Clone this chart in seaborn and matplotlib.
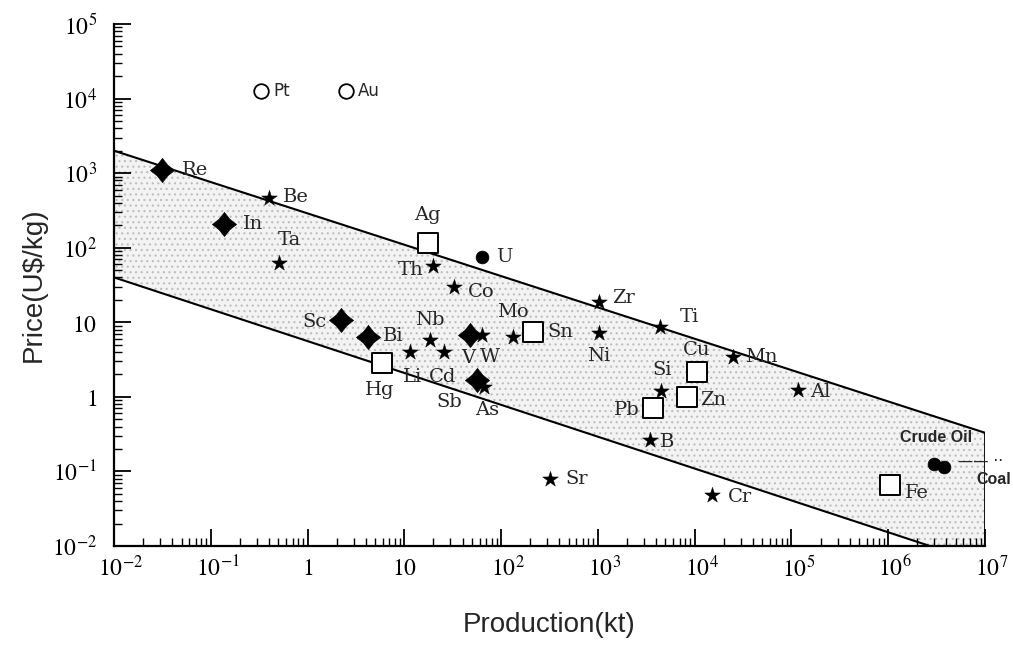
import numpy as np
import pandas as pd
import matplotlib
matplotlib.use("Agg")
import matplotlib.pyplot as plt
import matplotlib.ticker as mticker
import matplotlib.transforms as mtransforms
import seaborn as sns

# ---------------- data ----------------
names = ["Pt", "Au", "Re", "Be", "In", "Ta", "Ag", "U", "Th", "Co", "Sc", "Bi",
         "Hg", "Li", "Nb", "Cd", "V", "W", "Mo", "Sn", "Sb", "As", "Zr", "Ni",
         "Ti", "Mn", "Cu", "Si", "Zn", "Pb", "B", "Sr", "Cr", "Al", "Fe",
         "Crude Oil", "Coal"]
production_kt = [0.33, 2.5, 0.031, 0.40, 0.137, 0.51, 17.5, 63, 20, 33, 2.2, 4.2,
                 5.9, 11.4, 18.4, 26, 48, 63, 132, 214, 56, 67, 1020, 1020,
                 4370, 25000, 10500, 4450, 8300, 3700, 3460, 318, 15000, 118000, 1.05e6,
                 3.0e6, 3.8e6]
price_usd_kg = [12600, 12600, 1100, 470, 210, 63, 115, 75, 57, 30, 10.8, 6.4,
                2.86, 4.0, 5.8, 4.0, 6.8, 6.8, 6.4, 7.4, 1.69, 1.36, 18.8, 7.2,
                8.7, 3.4, 2.16, 1.2, 1.0, 0.71, 0.26, 0.078, 0.049, 1.24, 0.066,
                0.126, 0.115]
group = ["open", "open", "diamond", "star", "diamond", "star", "square", "dot", "star", "star",
         "diamond", "diamond", "square", "star", "star", "star", "diamond", "star", "star",
         "square", "diamond", "star", "star", "star", "star", "star", "square", "star",
         "square", "square", "star", "star", "star", "star", "square", "dot", "dot"]

# band boundaries (price-production trend band)
band_production = [1e-2, 1e7]
band_upper_price = [2000, 0.33]
band_lower_production = [1e-2, 2.7e6]
band_lower_price = [40, 0.01]

x_ticks = [1e-2, 1e-1, 1, 10, 1e2, 1e3, 1e4, 1e5, 1e6, 1e7]
x_tick_labels = [r"$10^{-2}$", r"$10^{-1}$", r"$1$", r"$10$", r"$10^{2}$", r"$10^{3}$",
                 r"$10^{4}$", r"$10^{5}$", r"$10^{6}$", r"$10^{7}$"]
y_ticks = [1e-2, 1e-1, 1, 10, 1e2, 1e3, 1e4, 1e5]
y_tick_labels = [r"$10^{-2}$", r"$10^{-1}$", r"$1$", r"$10$", r"$10^{2}$", r"$10^{3}$",
                 r"$10^{4}$", r"$10^{5}$"]

df = pd.DataFrame({"name": names, "production": production_kt,
                   "price": price_usd_kg, "group": group})

# ---------------- layout / style ----------------
label_offsets = {  # (dx px, dy px, ha)
    "Pt": (12, 0, "left"), "Au": (12, 0, "left"), "Re": (20, 0, "left"),
    "Be": (14, 1, "left"), "In": (19, 0, "left"), "Ta": (10, 23, "center"),
    "Ag": (0, 28, "center"), "U": (14, 0, "left"), "Th": (-10, -4, "right"),
    "Co": (13, -5, "left"), "Sc": (-14, -2, "right"), "Bi": (15, 1, "left"),
    "Hg": (-2, -27, "center"), "Li": (3, -25, "center"), "Nb": (0, 20, "center"),
    "Cd": (-2, -25, "center"), "V": (-2, -23, "center"), "W": (8, -22, "center"),
    "Mo": (0, 25, "center"), "Sn": (14, 0, "left"), "Sb": (-27, -22, "center"),
    "As": (3, -23, "center"), "Zr": (13, 4, "left"), "Ni": (0, -23, "center"),
    "Ti": (20, 10, "left"), "Mn": (12, 0, "left"), "Cu": (0, 22, "center"),
    "Si": (2, 21, "center"), "Zn": (13, -3, "left"), "Pb": (-13, -2, "right"),
    "B": (10, -2, "left"), "Sr": (16, 0, "left"), "Cr": (16, -2, "left"),
    "Al": (12, -2, "left"), "Fe": (15, -8, "left"),
    "Crude Oil": (2, 26, "center"), "Coal": (32, -13, "left"),
}

sns.set_style("white")
plt.rcParams["font.family"] = ["DejaVu Sans"]
plt.rcParams["mathtext.fontset"] = "stix"
plt.rcParams["hatch.linewidth"] = 0.8

fig = plt.figure(figsize=(10.13, 6.48), dpi=100)
ax = fig.add_axes([0.1125, 0.1574, 0.8598, 0.8056])
ax.set_xscale("log")
ax.set_yscale("log")

# band fill
poly_x = [band_production[0], band_production[1], band_production[1],
          band_lower_production[1], band_lower_production[0]]
poly_y = [band_upper_price[0], band_upper_price[1], band_lower_price[1],
          band_lower_price[1], band_lower_price[0]]
ax.fill(poly_x, poly_y, facecolor="#f3f3f3", edgecolor="#bdbdbd", hatch="...",
        linewidth=0, zorder=0)
ax.plot(band_production, band_upper_price, color="black", lw=1.5, zorder=1)
ax.plot([band_production[1], band_production[1]], [band_upper_price[1], band_lower_price[1]],
        color="black", lw=1.3, zorder=1)
ax.plot(band_lower_production, band_lower_price, color="black", lw=1.5, zorder=1)

# markers
concave_diamond = [(0, 1), (0.44, 0.44), (1, 0), (0.44, -0.44), (0, -1),
                   (-0.44, -0.44), (-1, 0), (-0.44, 0.44), (0, 1)]
styles = {
    "diamond": dict(marker=concave_diamond, s=300, color="black", edgecolor="black", linewidth=0.5),
    "star": dict(marker="*", s=140, color="black", edgecolor="black", linewidth=0.3),
    "square": dict(marker="s", s=210, color="white", edgecolor="black", linewidth=1.4),
    "open": dict(marker="o", s=110, color="white", edgecolor="black", linewidth=1.3),
    "dot": dict(marker="o", s=85, color="black", edgecolor="black", linewidth=0.5),
}
for g, kw in styles.items():
    sub = df[df["group"] == g]
    sns.scatterplot(data=sub, x="production", y="price", ax=ax, zorder=3, legend=False, **kw)

# labels
for _, r in df.iterrows():
    dx, dy, ha = label_offsets[r["name"]]
    if r["name"] in ("Crude Oil", "Coal"):
        fkw = dict(fontsize=11.5, fontweight="bold", family=["Liberation Sans", "DejaVu Sans"])
    elif r["name"] in ("Pt", "Au"):
        fkw = dict(fontsize=12, family=["DejaVu Sans"])
    else:
        fkw = dict(fontsize=14, fontweight="medium", family=["DejaVu Serif"])
    ax.annotate(r["name"], (r["production"], r["price"]), xytext=(dx, dy),
                textcoords="offset pixels", ha=ha, va="center", zorder=4, **fkw)
coal = df[df["name"] == "Coal"].iloc[0]
ax.annotate("\u2014\u2014 \u00b7\u00b7", (coal["production"], coal["price"]), xytext=(14, 5),
            textcoords="offset pixels", ha="left", va="center", fontsize=11, zorder=4)

# axes
ax.set_xlim(1e-2, 1e7)
ax.set_ylim(1e-2, 1e5)
for side in ("top", "right"):
    ax.spines[side].set_visible(False)
for side in ("left", "bottom"):
    ax.spines[side].set_linewidth(1.6)
    ax.spines[side].set_color("black")

ax.xaxis.set_major_locator(mticker.FixedLocator(x_ticks))
ax.xaxis.set_major_formatter(mticker.FixedFormatter(x_tick_labels))
ax.yaxis.set_major_locator(mticker.FixedLocator(y_ticks))
ax.yaxis.set_major_formatter(mticker.FixedFormatter(y_tick_labels))
ax.xaxis.set_minor_locator(mticker.LogLocator(base=10, subs=np.arange(2, 10), numticks=100))
ax.yaxis.set_minor_locator(mticker.LogLocator(base=10, subs=np.arange(2, 10), numticks=100))
ax.xaxis.set_minor_formatter(mticker.NullFormatter())
ax.yaxis.set_minor_formatter(mticker.NullFormatter())
ax.tick_params(which="both", bottom=True, left=True, top=False, right=False)
ax.tick_params(which="major", direction="in", length=12, width=1.3, labelsize=17,
               colors="black")
ax.tick_params(which="minor", direction="in", length=6, width=1.0, colors="black")
ax.tick_params(axis="x", which="major", pad=7)
ax.tick_params(axis="y", which="major", pad=12)

# shift superscripted x labels so the base digits sit under the tick
shift = mtransforms.ScaledTranslation(7 / 100, 0, fig.dpi_scale_trans)
for lab, txt in zip(ax.get_xticklabels(), x_tick_labels):
    if "^" in txt:
        lab.set_transform(lab.get_transform() + shift)

ax.set_xlabel("Production(kt)", fontsize=20, family=["Liberation Sans", "DejaVu Sans"],
              labelpad=22)
ax.set_ylabel(r"Price(U\$/kg)", fontsize=20, family=["Liberation Sans", "DejaVu Sans"],
              labelpad=4)
ax.grid(False)

fig.savefig("out.png", dpi=100)
